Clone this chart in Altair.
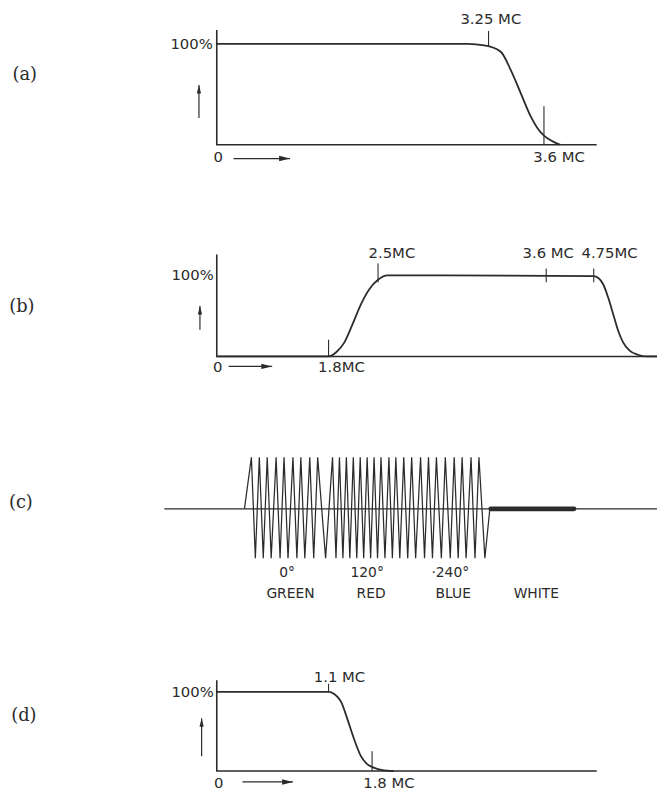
import altair as alt
import pandas as pd

INK = "#2b2b2b"
XDOM = [-208, 445]          # horizontal schematic units (1 unit = 1 px), 0 = axis origin
W = 653

# ---------------- panel (a) ----------------
A_H, A_YDOM = 192, [-56.9, 131.4]
A_curve_x = [0, 254, 262, 274.7, 287.3, 297.3, 307.3, 317.3, 324, 330.7, 339, 347.3]
A_curve_y = [100, 100, 99.5, 97.7, 91.9, 73.8, 51.0, 28.1, 16.7, 9.1, 3.6, 0]
A_axis = dict(xend=384, ytop=113.7)
A_ticks = dict(x=[274.7, 330.7], y0=[97.7, 0], y1=[112.7, 38.2])
A_text = dict(t=["3.25 MC", "3.6 MC", "0"], x=[277, 346, 1.5], y=[124.5, -12.7, -12.7])
A_pct = dict(x=-4, y=100)
A_name = dict(t="(a)", x=-194, y=68.6)
A_rarrow = dict(x0=17, x1=74, y=-13.7)
A_uarrow = dict(x=-18, y0=26.5, y1=59.1)

# ---------------- panel (b) ----------------
B_H, B_YDOM = 220, [-78.05, 190.24]
B_curve_x = [0, 113, 120.7, 129, 137.3, 145.7, 154, 163.3, 172.3, 380.7, 385.7, 390.7,
             395.7, 400.7, 405.7, 410.7, 417.3, 425.7, 434, 445]
B_curve_y = [0, 0, 5.2, 17.4, 39.9, 64.3, 82.6, 94.8, 100, 99.1, 96.7, 88.7,
             72.3, 52.1, 31.7, 17.4, 7.3, 2.1, 0, 0]
B_axis = dict(xend=445, ytop=125.6)
B_ticks = dict(x=[113, 163, 333, 381], y0=[0, 91.5, 91.5, 91.5], y1=[20.7, 114.6, 108.5, 108.5])
B_text = dict(t=["2.5MC", "3.6 MC", "4.75MC", "1.8MC", "0"],
              x=[177, 335, 397, 126, 1], y=[128, 128, 128, -13, -13.4])
B_pct = dict(x=-3, y=100)
B_name = dict(t="(b)", x=-197, y=61)
B_rarrow = dict(x0=12, x1=56, y=-12.2)
B_uarrow = dict(x=-17, y0=32.9, y1=62.2)

# ---------------- panel (c) ----------------
C_H, C_YDOM = 220, [-2.549, 1.765]
C_base = dict(x0=-53, x1=445)
C_top, C_bot = 1.02, -0.98
C_green_peaks = [251, 259, 267, 276, 284, 293, 301, 310, 318]
C_green_valleys = [255, 263, 271, 280, 288, 297, 305, 314, 326]
C_red_peaks = [333, 340, 347, 354, 361, 368, 375, 382, 390, 397, 405]
C_red_valleys = [336.5, 343.5, 350.5, 357.5, 364.5, 371.5, 378.5, 386, 393.5, 401, 409]
C_blue_peaks = [413, 422, 430, 438, 447, 456, 464, 473, 481]
C_blue_valleys = [417, 426, 434, 443, 452, 460, 468, 477, 487]
C_wave_start, C_wave_end = 244, 492      # picture x of where the burst leaves / rejoins the line
C_white = dict(x0=277, x1=361)
C_text = dict(t=["0°", "120°", "·240°", "GREEN", "RED", "BLUE", "WHITE"],
              x=[71, 152, 236, 74.5, 156, 239, 323],
              y=[-1.275, -1.275, -1.275, -1.686, -1.686, -1.686, -1.686])
C_name = dict(t="(c)", x=-198, y=0.118)

# ---------------- panel (d) ----------------
D_H, D_YDOM = 155, [-25, 168.75]
D_curve_x = [0, 113, 119, 125.7, 132.3, 139, 145.7, 152.3, 157.3, 167.3, 179]
D_curve_y = [100, 100, 97.1, 87.5, 64.6, 39.6, 18.75, 8.4, 5, 1.25, 0]
D_axis = dict(xend=384, ytop=114.6)
D_ticks = dict(x=[113, 157], y0=[100, 0], y1=[110.4, 25])
D_text = dict(t=["1.1 MC", "1.8 MC", "0"], x=[124, 174, 2], y=[118.75, -14.6, -15])
D_pct = dict(x=-3, y=100)
D_name = dict(t="(d)", x=-195, y=70)
D_rarrow = dict(x0=26, x1=77, y=-13.75)
D_uarrow = dict(x=-15.3, y0=18.75, y1=66.6)

RIGHT_HEAD = "M-4,-1L0,0L-4,1Z"
UP_HEAD = "M-1,4L0,0L1,4Z"


def enc(h, ydom):
    x = alt.X("x:Q", scale=alt.Scale(domain=XDOM, nice=False, zero=False), axis=None)
    y = alt.Y("y:Q", scale=alt.Scale(domain=ydom, nice=False, zero=False), axis=None)
    return x, y


def segs_df(segs):
    rows = []
    for i, (xs, ys) in enumerate(segs):
        for j, (a, b) in enumerate(zip(xs, ys)):
            rows.append({"x": a, "y": b, "seg": i, "o": j})
    return pd.DataFrame(rows)


def lines(df, x, y, width, interp="linear", cap="butt"):
    return alt.Chart(df).mark_line(color=INK, strokeWidth=width, interpolate=interp,
                                   strokeCap=cap).encode(
        x=x, y=y, detail="seg:N", order="o:Q")


def sans(d, x, y, size=15, align="center"):
    df = pd.DataFrame(d)
    return alt.Chart(df).mark_text(font="DejaVu Sans", fontSize=size, color=INK,
                                   align=align, baseline="middle").encode(x=x, y=y, text="t:N")


def serif(d, x, y):
    df = pd.DataFrame([d])
    return alt.Chart(df).mark_text(font="DejaVu Serif", fontSize=18, color=INK,
                                   align="center", baseline="middle").encode(x=x, y=y, text="t:N")


def heads(points, x, y, shape, size):
    df = pd.DataFrame(points)
    return alt.Chart(df).mark_point(shape=shape, size=size, filled=True, color=INK,
                                    opacity=1, strokeWidth=0).encode(x=x, y=y)


def graph_panel(h, ydom, cx, cy, axis, ticks, text, pct, name, rar, uar):
    x, y = enc(h, ydom)
    curve = lines(segs_df([(cx, cy)]), x, y, 1.8, interp="monotone")
    ax = lines(segs_df([([0, 0, axis["xend"]], [axis["ytop"], 0, 0])]), x, y, 1.6)
    tk = lines(segs_df([([a, a], [b, c]) for a, b, c in zip(ticks["x"], ticks["y0"], ticks["y1"])]),
               x, y, 1.1)
    arr = lines(segs_df([([rar["x0"], rar["x1"]], [rar["y"], rar["y"]]),
                         ([uar["x"], uar["x"]], [uar["y0"], uar["y1"]])]), x, y, 1.2)
    hd1 = heads([{"x": rar["x1"], "y": rar["y"]}], x, y, RIGHT_HEAD, 30)
    hd2 = heads([{"x": uar["x"], "y": uar["y1"]}], x, y, UP_HEAD, 18)
    tx = sans(text, x, y)
    pc = sans({"t": ["100%"], "x": [pct["x"]], "y": [pct["y"]]}, x, y, align="right")
    nm = serif(name, x, y)
    return alt.layer(ax, tk, curve, arr, hd1, hd2, tx, pc, nm).properties(width=W, height=h)


def wave_panel():
    x, y = enc(C_H, C_YDOM)
    wx, wy = [C_wave_start - 216], [0]
    for peaks, valleys in ((C_green_peaks, C_green_valleys), (C_red_peaks, C_red_valleys),
                           (C_blue_peaks, C_blue_valleys)):
        for p, v in zip(peaks, valleys):
            wx += [p - 216, v - 216]
            wy += [C_top, C_bot]
    wx.append(C_wave_end - 216)
    wy.append(0)
    base = lines(segs_df([([C_base["x0"], C_base["x1"]], [0, 0])]), x, y, 1.1)
    wave = lines(segs_df([(wx, wy)]), x, y, 1.25)
    white = lines(segs_df([([C_white["x0"], C_white["x1"]], [0, 0])]), x, y, 5, cap="round")
    tx = sans(C_text, x, y, size=14)
    nm = serif(C_name, x, y)
    return alt.layer(base, wave, white, tx, nm).properties(width=W, height=C_H)


pa = graph_panel(A_H, A_YDOM, A_curve_x, A_curve_y, A_axis, A_ticks, A_text, A_pct, A_name,
                 A_rarrow, A_uarrow)
pb = graph_panel(B_H, B_YDOM, B_curve_x, B_curve_y, B_axis, B_ticks, B_text, B_pct, B_name,
                 B_rarrow, B_uarrow)
pc = wave_panel()
pd_ = graph_panel(D_H, D_YDOM, D_curve_x, D_curve_y, D_axis, D_ticks, D_text, D_pct, D_name,
                  D_rarrow, D_uarrow)

chart = alt.vconcat(pa, pb, pc, pd_, spacing=0, bounds="flush").properties(
    padding=0, background="white"
).configure_view(stroke=None)

chart.save("out.html", embed_options={"renderer": "svg", "actions": False})
